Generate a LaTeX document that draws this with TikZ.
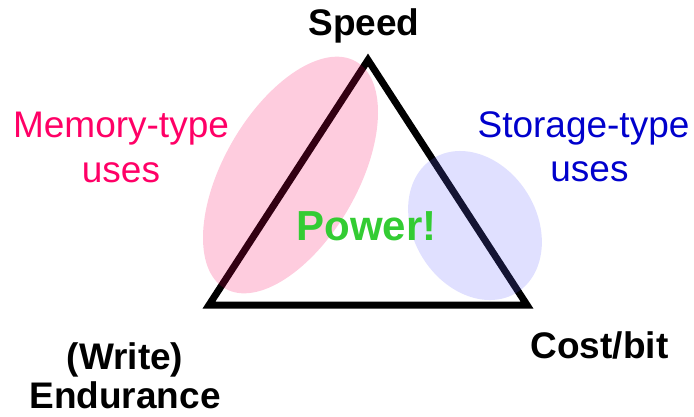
\documentclass[tikz,border=0pt]{standalone}
\usepackage{fontspec}
\setmainfont{Liberation Sans}
\usetikzlibrary{arrows}
\definecolor{R}{RGB}{255, 0, 102}
\definecolor{B}{RGB}{0, 0, 204}
\definecolor{G}{RGB}{51, 204, 51}
\definecolor{PE}{RGB}{250, 0, 90}
\definecolor{BE}{RGB}{102, 102, 255}

\begin{document}
\begin{tikzpicture}[x=1pt, y=-1pt,
    corner/.style={anchor=base, inner sep=0pt, font=\bfseries\fontsize{37}{40}\selectfont},
    usage/.style={anchor=base, inner sep=0pt, font=\fontsize{37}{45}\selectfont}]
  \useasboundingbox (0,0) rectangle (694,416);
  % corners of the triangle
  \coordinate (top) at (368,60);
  \coordinate (bl) at (209,305);
  \coordinate (br) at (527,305);
  \draw[black, line width=7pt, miter limit=10] (top) -- (bl) -- (br) -- cycle;
  % the two regions
  \fill[color=PE, opacity=0.2, rotate around={60:(290.5,175)}] (290.5,175) ellipse (131 and 67);
  \fill[color=BE, opacity=0.2, rotate around={-58:(475,225.5)}] (475,225.5) ellipse (79 and 61.5);
  % labels
  \node[corner] (speed) at (364,35) {Speed};
  \node[corner] (cost) at (599.5,358) {Cost/bit};
  \node[corner] (write) at (125,369) {(Write)};
  \node[corner] (endur) at (125,408) {Endurance};
  \node[usage, R] (mem) at (121,137) {Memory-type};
  \node[usage, R] (memuse) at (121,182) {uses};
  \node[usage, B] (stor) at (583.5,137) {Storage-type};
  \node[usage, B] (storuse) at (589.5,181) {uses};
  \node[G, anchor=base, inner sep=0pt, font=\bfseries\fontsize{42}{44}\selectfont] (power) at (366.5,240) {Power!};
\end{tikzpicture}
\end{document}
